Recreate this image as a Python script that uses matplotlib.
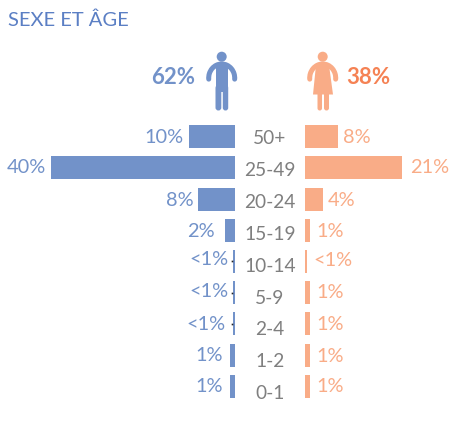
#!/usr/bin/env python3
# -*- coding: utf-8 -*-
import matplotlib
matplotlib.use('Agg')
import matplotlib.pyplot as plt
from matplotlib.patches import Circle, Arc, Polygon, FancyBboxPatch

plt.rcParams['font.family'] = ['Lato', 'DejaVu Sans']

age_groups = ['50+', '25-49', '20-24', '15-19', '10-14', '5-9', '2-4', '1-2', '0-1']
men_values = [10, 40, 8, 2.2, 0.4, 0.4, 0.4, 1.1, 1.1]
women_values = [7.2, 21, 4, 1.1, 0.35, 1.1, 1.1, 1.1, 1.1]
men_labels = ['10%', '40%', '8%', '2%', '<1%', '<1%', '<1%', '1%', '1%']
women_labels = ['8%', '21%', '4%', '1%', '<1%', '1%', '1%', '1%', '1%']
men_total = '62%'
women_total = '38%'

BLUE = '#7292C9'
ORANGE = '#F9AC87'
ORANGE_DARK = '#F58254'
GREY = '#7F7F7F'
W, H = 450, 441
PX_PER_PCT = 4.6

fig = plt.figure(figsize=(W / 100, H / 100), dpi=100)


def px_axes(x0, y0, x1, y1):
    # position given in picture pixels, y going down
    ax = fig.add_axes([x0 / W, 1 - y1 / H, (x1 - x0) / W, (y1 - y0) / H])
    ax.axis('off')
    return ax


TOP, BOTTOM = 120.9, 402.1
ax_l = px_axes(0, TOP, 235, BOTTOM)
ax_l.set_xlim(235 / PX_PER_PCT, 0)
ax_r = px_axes(305, TOP, 450, BOTTOM)
ax_r.set_xlim(0, 145 / PX_PER_PCT)
for ax in (ax_l, ax_r):
    ax.set_ylim(8.5, -0.5)

rows = range(len(age_groups))
ax_l.barh(rows, men_values, height=0.736, color=BLUE)
ax_r.barh(rows, women_values, height=0.736, color=ORANGE)

# gaps between bar end and label differ a bit row by row
men_gap = [6, 5, 5, 10, 5, 5, 8, 7, 7]
men_dy = [1, 0, 1, 1, -2, -1, 1, 0, 0]
women_gap = [5, 8, 4, 6, 7, 6, 6, 6, 6]
women_dy = [1, 0, 1, 1, -1, 0, 1, 1, 0]
for i in rows:
    ax_l.annotate(men_labels[i], (men_values[i], i), xytext=(-men_gap[i] * 0.72, -men_dy[i] * 0.72),
                  textcoords='offset points', ha='right', va='center', color=BLUE, fontsize=14.4)
    ax_r.annotate(women_labels[i], (women_values[i], i), xytext=(women_gap[i] * 0.72, -women_dy[i] * 0.72),
                  textcoords='offset points', ha='left', va='center', color=ORANGE, fontsize=14.4)

# overlay in pixel coordinates: title, age labels, icons
ov = fig.add_axes([0, 0, 1, 1], facecolor='none')
ov.set_xlim(0, W)
ov.set_ylim(H, 0)
ov.axis('off')

ov.text(8, 20.5, 'SEXE ET ÂGE', color='#5B7FC4', fontsize=14.5, ha='left', va='center')

for i, name in enumerate(age_groups):
    ov.text(270, 138.5 + 31.9 * i, name, color=GREY, fontsize=13.8, ha='center', va='center')

ov.text(195, 77.5, men_total, color=BLUE, fontsize=16, fontweight='bold', ha='right', va='center')
ov.text(346, 77.5, women_total, color=ORANGE_DARK, fontsize=16, fontweight='bold', ha='left', va='center')


def rounded(x0, y0, x1, y1, color):
    r = (x1 - x0) / 2
    ov.add_patch(FancyBboxPatch((x0 + r, y0 + r), 0.01, y1 - y0 - 2 * r, boxstyle=f'round,pad={r}',
                                fc=color, ec='none'))


def arms(cx, color):
    ov.add_patch(Arc((cx, 78), 26, 28, theta1=175, theta2=365, ec=color, lw=3.6, capstyle='round'))


# man
ov.add_patch(Circle((221.7, 56.7), 5, fc=BLUE, ec='none'))
arms(221.7, BLUE)
ov.add_patch(Polygon([(216, 65), (228, 65), (228, 92), (216, 92)], fc=BLUE, ec='none'))
rounded(215.5, 85, 221.3, 110.5, BLUE)
rounded(222.8, 85, 228.2, 110.5, BLUE)

# woman
ov.add_patch(Circle((322.7, 56.7), 5, fc=ORANGE, ec='none'))
arms(322.7, ORANGE)
ov.add_patch(Polygon([(316, 65), (329, 65), (333, 94.5), (313, 94.5)], fc=ORANGE, ec='none'))
rounded(317.5, 90, 322, 110.5, ORANGE)
rounded(324, 90, 329, 110.5, ORANGE)

# small dark specks next to the <1% bars
for y in (260.7, 292.7, 323.7):
    ov.plot([232.2], [y], marker='s', ms=1.2, color='#222222', mec='none')

fig.savefig('out.png', dpi=100)
